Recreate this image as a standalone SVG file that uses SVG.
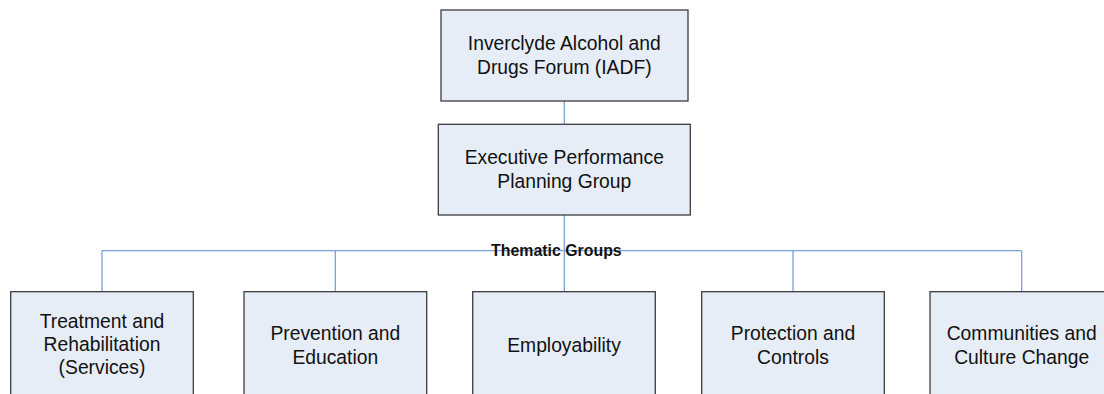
<svg xmlns="http://www.w3.org/2000/svg" width="1104" height="394" viewBox="0 0 1104 394">
  <style>
    .box { fill: #E7EDF7; stroke: #3C3C3C; stroke-width: 1.3; }
    .lbl { font-family: "Liberation Sans", Arial, sans-serif; font-size: 19.3px; fill: #111; text-anchor: middle; }
    .title { font-family: "Liberation Sans", Arial, sans-serif; font-size: 15.9px; font-weight: bold; fill: #111; }
    .conn { fill: none; stroke: #7BA0DA; stroke-width: 1.3; }
  </style>
  <rect width="1104" height="394" fill="#FFFFFF"/>

  <!-- connectors -->
  <g id="connectors">
    <line class="conn" x1="564.3" y1="101" x2="564.3" y2="124"/>
    <line class="conn" x1="564.3" y1="215" x2="564.3" y2="291.7"/>
    <line class="conn" x1="102" y1="250.7" x2="1021.7" y2="250.7"/>
    <line class="conn" x1="102" y1="250.7" x2="102" y2="291.7"/>
    <line class="conn" x1="335.3" y1="250.7" x2="335.3" y2="291.7"/>
    <line class="conn" x1="793" y1="250.7" x2="793" y2="291.7"/>
    <line class="conn" x1="1021.7" y1="250.7" x2="1021.7" y2="291.7"/>
  </g>

  <text class="title" x="491" y="256">Thematic Groups</text>

  <g id="iadf">
    <rect class="box" x="441" y="10" width="247" height="91"/>
    <text class="lbl" x="564.3" y="49.6">Inverclyde Alcohol and</text>
    <text class="lbl" x="564.3" y="73.6">Drugs Forum (IADF)</text>
  </g>

  <g id="epg">
    <rect class="box" x="438.3" y="124.3" width="252" height="90.7"/>
    <text class="lbl" x="564.3" y="164.4">Executive Performance</text>
    <text class="lbl" x="564.3" y="188.4">Planning Group</text>
  </g>

  <g id="treatment">
    <rect class="box" x="10.7" y="291.7" width="182.6" height="110"/>
    <text class="lbl" x="102" y="328">Treatment and</text>
    <text class="lbl" x="102" y="351.3">Rehabilitation</text>
    <text class="lbl" x="102" y="374">(Services)</text>
  </g>

  <g id="prevention">
    <rect class="box" x="244" y="291.7" width="182.7" height="110"/>
    <text class="lbl" x="335.3" y="339.7">Prevention and</text>
    <text class="lbl" x="335.3" y="363.5">Education</text>
  </g>

  <g id="employability">
    <rect class="box" x="472.7" y="291.7" width="182.6" height="110"/>
    <text class="lbl" x="564" y="352">Employability</text>
  </g>

  <g id="protection">
    <rect class="box" x="701.7" y="291.7" width="182.6" height="110"/>
    <text class="lbl" x="793" y="339.7">Protection and</text>
    <text class="lbl" x="793" y="363.5">Controls</text>
  </g>

  <g id="communities">
    <rect class="box" x="930" y="291.7" width="182.6" height="110"/>
    <text class="lbl" x="1021.7" y="339.7">Communities and</text>
    <text class="lbl" x="1021.7" y="363.5">Culture Change</text>
  </g>
</svg>
